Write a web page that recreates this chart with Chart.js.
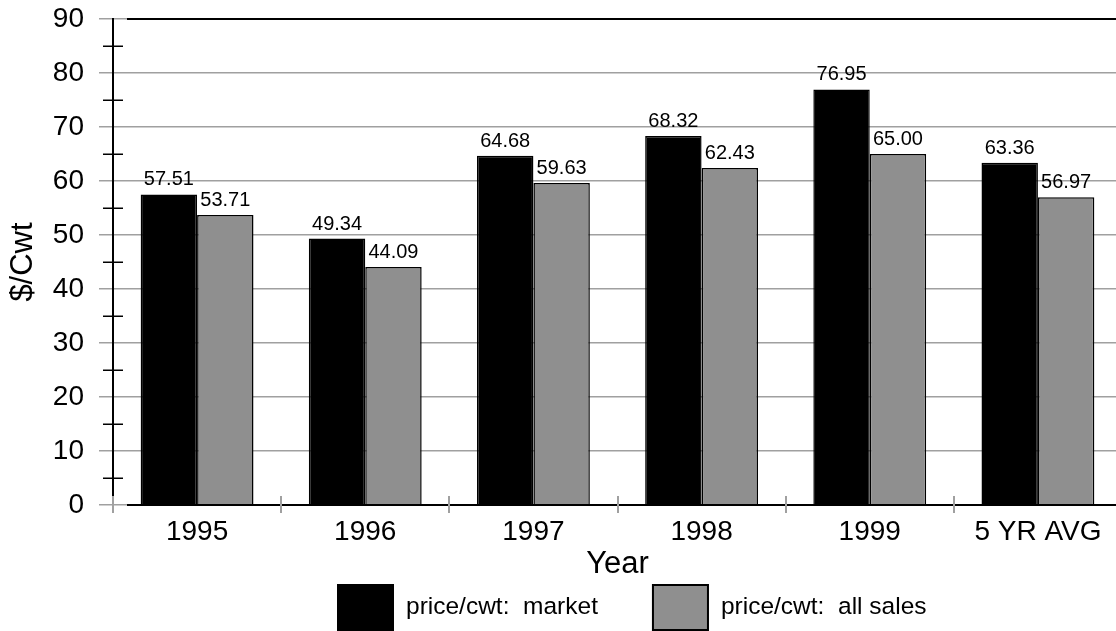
<!DOCTYPE html>
<html>
<head>
<meta charset="utf-8">
<script src="https://cdn.jsdelivr.net/npm/chart.js@4/dist/chart.umd.min.js"></script>
<style>
  html, body { margin: 0; padding: 0; background: #fff; overflow: hidden; }
  canvas { display: block; }
</style>
</head>
<body>
<canvas id="c" width="1140" height="631"></canvas>
<script>
// Price per hundredweight by year
const categories = ['1995', '1996', '1997', '1998', '1999', '5 YR AVG'];
const marketPrice = [57.51, 49.34, 64.68, 68.32, 76.95, 63.36];
const allSalesPrice = [53.71, 44.09, 59.63, 62.43, 65.00, 56.97];
const seriesNames = ['price/cwt:  market', 'price/cwt:  all sales'];
const yTickValues = [0, 10, 20, 30, 40, 50, 60, 70, 80, 90];

const FONT = '"Liberation Sans", Arial, sans-serif';
const GRID = '#a0a0a0';
const GREY = '#8f8f8f';

// Value labels, frame lines, minor ticks and category separators
const decorations = {
  id: 'decorations',
  afterDatasetsDraw(chart) {
    const { ctx, chartArea: a, scales: { x, y } } = chart;
    ctx.save();

    ctx.font = '20px ' + FONT;
    ctx.fillStyle = '#000';
    ctx.textAlign = 'center';
    ctx.textBaseline = 'alphabetic';
    chart.data.datasets.forEach((ds, i) => {
      chart.getDatasetMeta(i).data.forEach((bar, j) => {
        ctx.fillText(ds.data[j].toFixed(2), bar.x, bar.y - 9);
      });
    });

    // top and bottom frame
    ctx.strokeStyle = '#000';
    ctx.lineWidth = 2;
    [a.top, a.bottom].forEach(py => {
      ctx.beginPath();
      ctx.moveTo(a.left + 14, py);
      ctx.lineTo(a.right, py);
      ctx.stroke();
    });

    // minor ticks halfway between major ticks
    ctx.lineWidth = 1.5;
    for (let k = 0; k < yTickValues.length - 1; k++) {
      const v = (yTickValues[k] + yTickValues[k + 1]) / 2;
      const py = Math.round(y.getPixelForValue(v)) + 0.25;
      ctx.beginPath();
      ctx.moveTo(a.left - 10, py);
      ctx.lineTo(a.left + 10, py);
      ctx.stroke();
    }

    // category separators reaching into the plot
    const half = (x.getPixelForValue(1) - x.getPixelForValue(0)) / 2;
    ctx.strokeStyle = GRID;
    ctx.lineWidth = 2;
    for (let i = 0; i <= categories.length; i++) {
      const px = Math.round(x.getPixelForValue(i) - half);
      ctx.beginPath();
      ctx.moveTo(px, a.bottom - 9);
      ctx.lineTo(px, a.bottom + 8);
      ctx.stroke();
    }
    ctx.restore();
  }
};

// Legend with large swatches below the axis title
const swatchLegend = {
  id: 'swatchLegend',
  afterDraw(chart) {
    const { ctx } = chart;
    const boxW = 57, boxH = 47, top = 584, gap = 12, itemGap = 54;
    ctx.save();
    ctx.font = '24.5px ' + FONT;
    ctx.textBaseline = 'middle';
    ctx.textAlign = 'left';
    let px = 337;
    chart.data.datasets.forEach(ds => {
      ctx.fillStyle = ds.backgroundColor;
      ctx.fillRect(px, top, boxW, boxH);
      ctx.strokeStyle = '#000';
      ctx.lineWidth = 2;
      ctx.strokeRect(px + 1, top + 1, boxW - 2, boxH - 2);
      ctx.fillStyle = '#000';
      ctx.fillText(ds.label, px + boxW + gap, top + boxH / 2);
      px += boxW + gap + ctx.measureText(ds.label).width + itemGap;
    });
    ctx.restore();
  }
};

function noEdgePadding(scale) {
  scale.paddingTop = 0;
  scale.paddingBottom = 0;
}

new Chart(document.getElementById('c'), {
  type: 'bar',
  data: {
    labels: categories,
    datasets: [
      { label: seriesNames[0], data: marketPrice, backgroundColor: '#000', borderColor: '#000', borderWidth: 1.5 },
      { label: seriesNames[1], data: allSalesPrice, backgroundColor: GREY, borderColor: '#000', borderWidth: 1.5 }
    ]
  },
  options: {
    responsive: false,
    devicePixelRatio: 1,
    animation: false,
    layout: { padding: { top: 19, right: 18, left: 0, bottom: 0 } },
    categoryPercentage: 0.671,
    barPercentage: 1,
    plugins: { legend: { display: false }, tooltip: { enabled: false } },
    scales: {
      x: {
        offset: true,
        grid: { display: true, drawOnChartArea: false, offset: true, tickLength: 8, color: GRID, lineWidth: 2 },
        border: { display: false },
        ticks: { color: '#000', font: { family: FONT, size: 28 }, padding: 2, maxRotation: 0 },
        title: { display: true, text: 'Year', color: '#000', font: { family: FONT, size: 31 }, padding: { top: 0, bottom: 48 } },
        afterFit(scale) { scale.height = 126; noEdgePadding(scale); }
      },
      y: {
        min: yTickValues[0],
        max: yTickValues[yTickValues.length - 1],
        ticks: { stepSize: yTickValues[1] - yTickValues[0], color: '#000', font: { family: FONT, size: 28 }, padding: 15 },
        grid: { color: GRID, lineWidth: 1.5, tickLength: 14 },
        border: { display: true, color: '#000', width: 2 },
        title: { display: true, text: '$/Cwt', color: '#000', font: { family: FONT, size: 31 }, padding: { top: 5, bottom: 0 } },
        afterFit(scale) { scale.width = 113; noEdgePadding(scale); }
      }
    }
  },
  plugins: [decorations, swatchLegend]
});
</script>
</body>
</html>
